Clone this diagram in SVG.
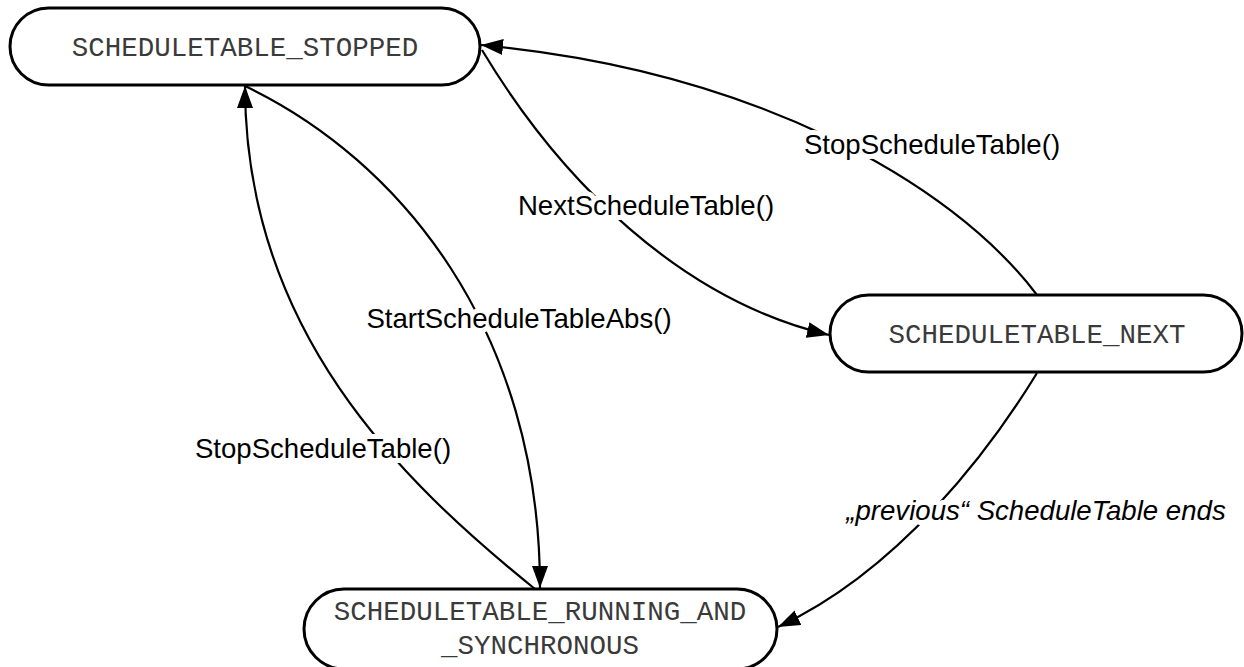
<svg xmlns="http://www.w3.org/2000/svg" width="1244" height="667" viewBox="0 0 1244 667">
<style>
.node{fill:#fff;stroke:#000;stroke-width:3}
.nt{font-family:"Liberation Mono","Courier New",monospace;font-size:27.5px;fill:#3a3a3a;text-anchor:middle}
.edge{fill:none;stroke:#000;stroke-width:2.2;marker-end:url(#ah)}
.lbl{font-family:"Liberation Sans",Arial,sans-serif;font-size:27.6px;fill:#000;text-anchor:middle;stroke:#fff;stroke-width:10px;paint-order:stroke;stroke-linejoin:round}
</style>
<defs>
<marker id="ah" viewBox="0 0 22 16" refX="22" refY="8" markerWidth="22" markerHeight="16" markerUnits="userSpaceOnUse" orient="auto">
<path d="M0,0 L22,8 L0,16 Z" fill="#000"/>
</marker>
</defs>
<rect width="1244" height="667" fill="#fff"/>
<g id="connectors">
<path class="edge" d="M245,86 C400,160 540,330 540,588"/>
<path class="edge" d="M535,589 C400,480 245,330 245,86"/>
<path class="edge" d="M482,50 C560,180 680,300 829,335"/>
<path class="edge" d="M1037,295 C950,180 750,70 481,45"/>
<path class="edge" d="M1037,373 C990,450 900,570 778,627"/>
</g>
<g id="labels">
<text class="lbl" x="932" y="154">StopScheduleTable()</text>
<text class="lbl" x="646" y="215">NextScheduleTable()</text>
<text class="lbl" x="519" y="328">StartScheduleTableAbs()</text>
<text class="lbl" x="323" y="458">StopScheduleTable()</text>
<text class="lbl" x="1036" y="520" font-style="italic">„previous“ ScheduleTable ends</text>
</g>
<g id="stopped">
<rect class="node" x="10" y="8" width="470" height="77" rx="38.5"/>
<text class="nt" x="245" y="56">SCHEDULETABLE_STOPPED</text>
</g>
<g id="next">
<rect class="node" x="830" y="295" width="412" height="77" rx="38.5"/>
<text class="nt" x="1037" y="343">SCHEDULETABLE_NEXT</text>
</g>
<g id="running">
<rect class="node" x="304" y="589" width="473" height="80" rx="40"/>
<text class="nt" x="540" y="620">SCHEDULETABLE_RUNNING_AND</text>
<text class="nt" x="540" y="654">_SYNCHRONOUS</text>
</g>
</svg>
